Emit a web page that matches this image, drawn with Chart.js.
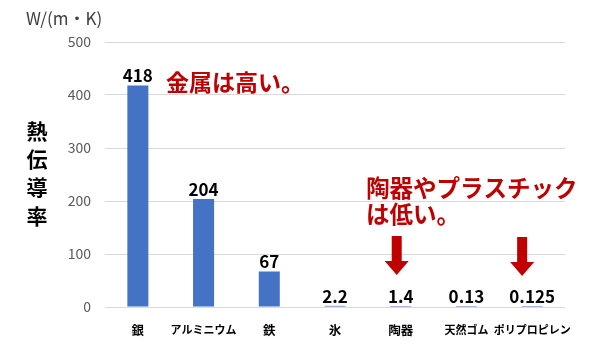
<!DOCTYPE html>
<html><head><meta charset="utf-8">
<script src="https://cdn.jsdelivr.net/npm/chart.js@4/dist/chart.umd.min.js"></script>
<style>html,body{margin:0;padding:0;background:#fff}#wrap{width:608px;height:356px}</style>
</head><body><div id="wrap"><canvas id="c" width="608" height="356"></canvas></div>
<script>
const categories = ["銀","アルミニウム","鉄","氷","陶器","天然ゴム","ポリプロピレン"];
const values = [418, 204, 67, 2.2, 1.4, 0.13, 0.125];
const valueLabels = ["418","204","67","2.2","1.4","0.13","0.125"];
const yTicks = [0,100,200,300,400,500];
const unitLabel = "W/(m・K)";
const yTitle = "熱伝導率";
const note1 = "金属は高い。";
const note2 = ["陶器やプラスチック","は低い。"];
const arrowTargets = [4, 6];

const JP = '"Noto Sans CJK JP", "Noto Sans", sans-serif';
const RED = '#C00000';

const overlay = {
  id: 'overlay',
  afterDatasetsDraw(chart) {
    const ctx = chart.ctx;
    const meta = chart.getDatasetMeta(0);
    ctx.save();
    // value labels
    ctx.fillStyle = '#000';
    ctx.font = 'bold 17px ' + JP;
    ctx.textAlign = 'center';
    ctx.textBaseline = 'alphabetic';
    meta.data.forEach((bar, i) => {
      ctx.fillText(valueLabels[i], bar.x, bar.y - 3);
    });
    // unit
    ctx.fillStyle = '#404040';
    ctx.font = '17px ' + JP;
    ctx.textAlign = 'left';
    ctx.textBaseline = 'middle';
    ctx.fillText(unitLabel, 26, 19);
    // y title stacked
    ctx.fillStyle = '#000';
    ctx.font = 'bold 21px ' + JP;
    ctx.textAlign = 'center';
    const ys = [131, 159, 187, 216];
    [...yTitle].forEach((ch, i) => ctx.fillText(ch, 37, ys[i]));
    // notes
    ctx.fillStyle = RED;
    ctx.font = 'bold 23px ' + JP;
    ctx.textAlign = 'left';
    ctx.fillText(note1, 166, 82);
    ctx.font = 'bold 23.5px ' + JP;
    ctx.fillText(note2[0], 366, 188);
    ctx.fillText(note2[1], 366, 214);
    // arrows
    const xs = chart.scales.x;
    const offs = [-4, -10];
    arrowTargets.forEach((idx, k) => {
      const cx = xs.getPixelForValue(idx) + offs[k];
      const top = 236 + k, headY = 261 + k, tip = 275 + k;
      ctx.beginPath();
      ctx.moveTo(cx - 5, top);
      ctx.lineTo(cx + 5, top);
      ctx.lineTo(cx + 5, headY);
      ctx.lineTo(cx + 12, headY);
      ctx.lineTo(cx, tip);
      ctx.lineTo(cx - 12, headY);
      ctx.lineTo(cx - 5, headY);
      ctx.closePath();
      ctx.fill();
    });
    ctx.restore();
  }
};

new Chart(document.getElementById('c'), {
  type: 'bar',
  data: {
    labels: categories,
    datasets: [{ data: values, backgroundColor: '#4472C4', barPercentage: 0.4, categoryPercentage: 0.8, minBarLength: 1 }]
  },
  options: {
    responsive: false,
    animation: false,
    devicePixelRatio: 1,
    layout: { padding: { left: 0, right: 43, top: 42, bottom: 0 } },
    plugins: { legend: { display: false }, tooltip: { enabled: false } },
    scales: {
      x: {
        grid: { display: false, drawTicks: false },
        border: { display: false },
        ticks: {
          color: '#000',
          font: (c) => ({ family: JP, size: (categories[c.index] || '').length > 3 ? 11 : 12.5, weight: 'bold' }),
          padding: 16, maxRotation: 0, autoSkip: false
        },
        afterFit(s) { s.height = 49; }
      },
      y: {
        min: 0, max: 500,
        afterBuildTicks(s) { s.ticks = yTicks.map(v => ({ value: v })); },
        grid: { color: '#d9d9d9', drawTicks: false },
        border: { display: false },
        ticks: { color: '#595959', font: { family: JP, size: 14 }, padding: 14 },
        afterFit(s) { s.width = 105; }
      }
    }
  },
  plugins: [overlay]
});
</script></body></html>
